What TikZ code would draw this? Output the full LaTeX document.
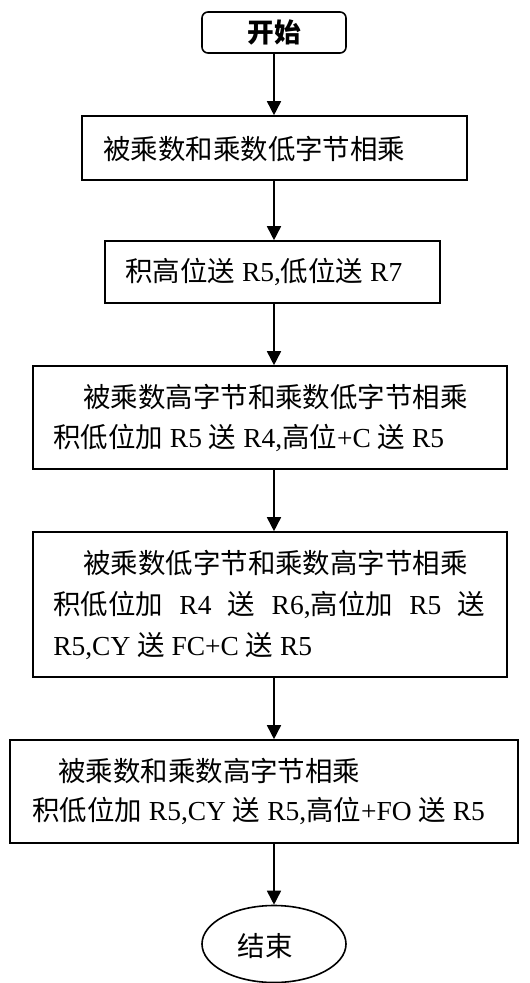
\documentclass[tikz,border=0pt]{standalone}
\usepackage{fontspec}
\setmainfont{Liberation Serif}
\newfontfamily\cjk{Noto Sans CJK SC}
\usetikzlibrary{arrows.meta,shapes.geometric}
\newdimen\pxu \pxu=0.75pt
\newcommand\zh[1]{{\cjk #1}}

\begin{document}
\begin{tikzpicture}[x=0.75pt,y=-0.75pt,
  box/.style={draw, line width=1.2pt, inner sep=0pt},
  txt/.style={anchor=west, inner sep=0pt, text height=17pt, text depth=3pt,
              font=\fontsize{20.6pt}{24pt}\selectfont},
  arr/.style={-{Triangle[length=10.5pt,width=10.5pt]}, line width=1.2pt}]
\useasboundingbox (0,0) rectangle (530,983);
\coordinate (axis) at (274,0);

% start / end terminals
\node[box, rounded corners=4.5pt, minimum width=144\pxu, minimum height=41\pxu,
      font=\fontsize{20pt}{24pt}\selectfont] (start) at (274,32.5) {\bfseries\zh{开始}};
\node[box, ellipse, minimum width=144\pxu, minimum height=77\pxu] (stop) at (274,944) {};
\node[txt, anchor=center] (stopT) at (265,947) {\zh{结束}};

% process boxes
\node[box, minimum width=385\pxu, minimum height=64\pxu] (b1) at (274.5,148) {};
\node[txt] (b1a) at (103,150) {\zh{被乘数和乘数低字节相乘}};

\node[box, minimum width=335\pxu, minimum height=62\pxu] (b2) at (272.5,272) {};
\node[txt] (b2a) at (125,272) {\zh{积高位送} R5,\zh{低位送} R7};

\node[box, minimum width=474\pxu, minimum height=103\pxu] (b3) at (270,417.5) {};
\node[txt] (b3a) at (83,398) {\zh{被乘数高字节和乘数低字节相乘}};
\node[txt] (b3b) at (53,438) {\zh{积低位加} R5 \zh{送} R4,\zh{高位}+C \zh{送} R5};

\node[box, minimum width=474\pxu, minimum height=145\pxu] (b4) at (270,604.5) {};
\node[txt] (b4a) at (83,564) {\zh{被乘数低字节和乘数高字节相乘}};
\node[txt] (b4b) at (53,605) {\makebox[324pt][s]{\zh{积低位加} R4 \zh{送} R6,\zh{高位加} R5 \zh{送}}};
\node[txt] (b4c) at (53,646) {R5,CY \zh{送} FC+C \zh{送} R5};

\node[box, minimum width=508\pxu, minimum height=103\pxu] (b5) at (264,791.5) {};
\node[txt] (b5a) at (58,772) {\zh{被乘数和乘数高字节相乘}};
\node[txt] (b5b) at (32,811) {\zh{积低位加} R5,CY \zh{送} R5,\zh{高位}+FO \zh{送} R5};

% flow arrows along the common axis
\draw[arr] (start.south -| axis) -- (b1.north -| axis);
\draw[arr] (b1.south -| axis) -- (b2.north -| axis);
\draw[arr] (b2.south -| axis) -- (b3.north -| axis);
\draw[arr] (b3.south -| axis) -- (b4.north -| axis);
\draw[arr] (b4.south -| axis) -- (b5.north -| axis);
\draw[arr] (b5.south -| axis) -- (stop.north);
\end{tikzpicture}
\end{document}
